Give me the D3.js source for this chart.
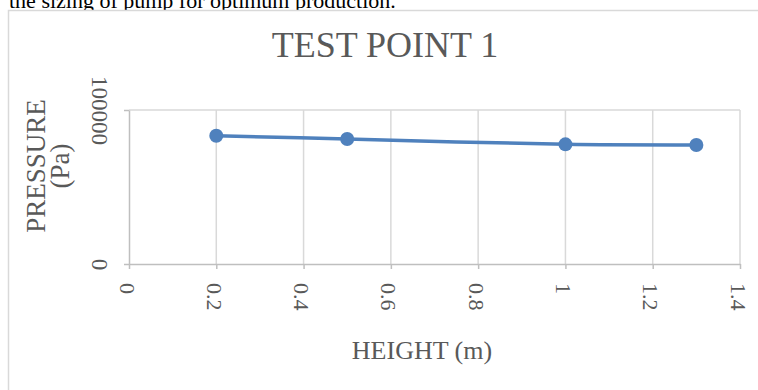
<!DOCTYPE html>
<html>
<head>
<meta charset="utf-8">
<script src="https://cdn.jsdelivr.net/npm/d3@7/dist/d3.min.js"></script>
<style>
  html, body { margin: 0; padding: 0; background: #fff; overflow: hidden; }
  svg { display: block; font-family: "Liberation Serif", "Times New Roman", serif; }
</style>
</head>
<body>
<svg id="chart" width="758" height="390"></svg>
<script>
// Pressure measured at each height for test point 1
const heights = [0.2, 0.5, 1.0, 1.3];
const pressures = [83300, 81200, 77700, 77300];
const xTicks = [0, 0.2, 0.4, 0.6, 0.8, 1, 1.2, 1.4];
const yTicks = [0, 100000];

const svg = d3.select("#chart");
const grey = "#595959";

// preceding document line, partly hidden above the chart frame
svg.append("text")
  .attr("x", 9).attr("y", 7.5)
  .attr("font-size", 22).attr("fill", "#000")
  .text("the sizing of pump for optimum production.");

// chart frame
svg.append("rect")
  .attr("x", 8.5).attr("y", 10.5)
  .attr("width", 800).attr("height", 420)
  .attr("fill", "#fff").attr("stroke", "#d9d9d9").attr("stroke-width", 1.5);

const x = d3.scaleLinear().domain([0, 1.4]).range([129, 740]);
const y = d3.scaleLinear().domain([0, 100000]).range([264, 110]);

// gridlines
const grid = svg.append("g").attr("stroke", "#d9d9d9").attr("stroke-width", 1.5);
grid.selectAll(".vg").data(xTicks.slice(1)).join("line")
  .attr("x1", d => x(d)).attr("x2", d => x(d))
  .attr("y1", y(100000)).attr("y2", y(0));
grid.selectAll(".hg").data(yTicks.slice(1)).join("line")
  .attr("x1", x(0)).attr("x2", x(1.4))
  .attr("y1", d => y(d)).attr("y2", d => y(d));

// x axis
const xAxis = svg.append("g")
  .attr("transform", `translate(0,${y(0)})`)
  .call(d3.axisBottom(x).tickValues(xTicks).tickSize(5).tickSizeOuter(0).tickFormat(d3.format("")));
xAxis.select(".domain").attr("stroke", "#bfbfbf").attr("stroke-width", 1.5);
xAxis.selectAll(".tick line").attr("stroke", "#bfbfbf").attr("stroke-width", 1.5);
xAxis.selectAll(".tick text")
  .attr("font-size", 22).attr("fill", grey)
  .attr("font-family", "Liberation Serif")
  .attr("text-anchor", "start")
  .attr("y", 0).attr("dy", "0.45em")
  .attr("transform", "translate(0,19) rotate(90)");

// y axis
const yAxis = svg.append("g")
  .attr("transform", `translate(${x(0)},0)`)
  .call(d3.axisLeft(y).tickValues(yTicks).tickSize(5).tickSizeOuter(0).tickFormat(d3.format("")));
yAxis.select(".domain").attr("stroke", "#bfbfbf").attr("stroke-width", 1.5);
yAxis.selectAll(".tick line").attr("stroke", "#bfbfbf").attr("stroke-width", 1.5);
yAxis.selectAll(".tick text")
  .attr("font-size", 23).attr("fill", grey)
  .attr("font-family", "Liberation Serif")
  .attr("text-anchor", "middle")
  .attr("x", 0).attr("dy", "0")
  .attr("transform", "translate(-37,0) rotate(90)");

// series line and markers
const line = d3.line()
  .x((d, i) => x(heights[i]))
  .y(d => y(d))
  .curve(d3.curveCatmullRom.alpha(0.5));
svg.append("path")
  .datum(pressures)
  .attr("d", line)
  .attr("fill", "none")
  .attr("stroke", "#4f81bd")
  .attr("stroke-width", 3.5)
  .attr("stroke-linecap", "round");
svg.selectAll(".pt").data(pressures).join("circle")
  .attr("cx", (d, i) => x(heights[i]))
  .attr("cy", d => y(d))
  .attr("r", 7)
  .attr("fill", "#4f81bd");

// titles
svg.append("text")
  .attr("x", 385).attr("y", 57)
  .attr("text-anchor", "middle")
  .attr("font-size", 36).attr("fill", grey)
  .text("TEST POINT 1");

svg.append("text")
  .attr("x", 422).attr("y", 359)
  .attr("text-anchor", "middle")
  .attr("font-size", 26).attr("fill", grey)
  .text("HEIGHT (m)");

const yTitle = svg.append("text")
  .attr("transform", "translate(45,166) rotate(-90)")
  .attr("text-anchor", "middle")
  .attr("font-size", 27).attr("fill", grey);
yTitle.append("tspan").attr("x", 0).attr("y", 0).text("PRESSURE");
yTitle.append("tspan").attr("x", 0).attr("y", 24).text("(Pa)");
</script>
</body>
</html>
